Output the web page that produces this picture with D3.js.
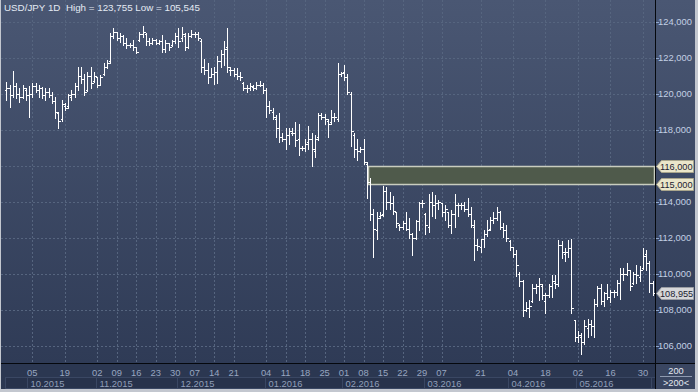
<!DOCTYPE html>
<html>
<head>
<meta charset="utf-8">
<script src="https://cdn.jsdelivr.net/npm/d3@7"></script>
<style>
html, body { margin: 0; padding: 0; background: #c3c7cf; }
svg { display: block; font-family: "Liberation Sans", Arial, sans-serif; }
</style>
</head>
<body>
<svg id="chart" width="698" height="392"></svg>
<script>
// USD/JPY daily bars
const opens = [
  120.2,120.3,119.9,120.4,120.0,119.8,120.2,119.9,120.0,120.4,
  120.2,120.3,119.9,120.1,119.9,119.6,118.9,118.6,119.3,119.3,
  119.8,120.0,120.4,121.0,120.8,120.2,121.0,120.7,120.9,120.5,
  121.1,121.5,121.8,123.2,123.4,123.1,123.2,122.8,122.7,122.7,
  122.6,123.0,123.3,123.3,122.9,122.8,123.0,122.8,122.9,122.5,
  122.8,122.7,122.9,123.2,123.1,123.2,122.6,123.2,123.3,123.3,
  122.9,121.5,121.3,120.95,121.1,121.2,121.8,122.2,122.6,121.3,
  121.3,121.1,121.0,120.6,120.3,120.3,120.35,120.3,120.5,120.5,
  120.2,119.3,119.0,118.6,118.1,117.6,117.5,117.7,117.8,117.8,
  117.5,117.0,117.0,117.3,117.5,116.8,117.6,118.8,118.7,118.5,
  118.4,118.7,118.6,121.1,121.2,120.9,120.0,117.7,116.9,116.8,
  116.9,116.1,115.1,113.3,112.4,113.2,113.3,114.6,114.0,113.9,
  113.4,112.7,112.6,112.8,112.5,112.2,112.0,112.9,113.9,113.3,
  112.6,114.0,113.8,113.9,113.9,113.4,113.4,112.7,113.3,113.8,
  113.8,113.8,113.6,113.3,112.6,111.6,111.5,111.9,112.2,112.5,
  113.0,113.1,113.4,112.6,112.4,111.8,111.5,111.1,110.0,109.6,
  108.0,108.1,108.5,109.2,109.3,109.3,108.5,108.8,109.3,109.5,
  109.4,111.6,111.1,111.2,111.4,107.4,106.5,106.5,106.2,107.0,
  107.2,107.1,108.3,109.2,108.5,108.9,108.7,109.0,109.0,109.5,
  110.0,110.0,110.2,109.5,110.0,109.8,110.3,111.1,110.6,109.5
];
const highs = [
  120.67,120.5,121.26,120.58,120.3,120.48,120.3,120.4,120.6,120.58,
  120.48,120.35,120.3,120.3,120.1,119.83,119.0,119.65,119.46,120.0,
  120.2,120.58,121.5,121.5,121.1,121.2,121.5,121.2,120.95,121.04,
  121.69,121.87,123.35,123.63,123.45,123.35,123.26,123.08,122.8,122.98,
  122.61,123.45,123.755,123.35,123.08,123.08,123.02,122.98,123.26,122.98,
  122.8,122.98,123.35,123.63,123.7,123.35,123.35,123.54,123.45,123.45,
  123.05,121.9,121.7,121.4,121.5,122.1,122.45,122.9,123.65,121.5,
  121.4,121.45,121.2,120.65,120.5,120.6,120.5,120.65,120.7,120.6,
  120.3,119.6,119.2,118.8,118.9,117.8,118.1,118.1,118.1,118.4,
  118.3,117.1,117.5,118.2,117.8,117.7,118.9,118.9,118.85,118.6,
  119.1,118.9,121.7,121.2,121.6,121.1,120.1,117.8,117.5,117.05,
  117.5,116.2,115.3,113.6,113.4,113.4,114.85,114.8,114.55,114.3,
  113.45,112.75,112.9,113.4,113.1,112.25,113.0,114.0,114.1,113.35,
  114.45,114.55,114.35,114.1,113.95,113.8,113.45,113.55,114.45,113.9,
  113.95,114.0,114.2,113.7,113.0,111.9,111.95,112.4,113.0,113.15,
  113.4,113.7,113.5,112.8,112.7,111.85,111.5,111.3,110.1,109.65,
  108.45,108.55,109.4,109.45,109.75,109.4,108.9,109.45,109.9,109.9,
  111.85,111.8,111.4,111.85,111.9,107.45,106.8,106.7,107.4,107.5,
  107.4,108.6,109.3,109.4,109.0,109.4,109.1,109.1,109.65,110.3,
  110.3,110.6,110.2,110.1,110.5,110.4,111.45,111.3,110.7,109.6
];
const lows = [
  119.65,119.25,119.83,119.75,119.56,119.75,119.65,118.69,119.83,120.1,
  119.83,119.75,119.65,119.83,119.46,118.63,118.08,118.5,119.1,119.2,
  119.65,119.83,120.2,120.58,119.93,120.15,120.3,120.67,120.35,120.48,
  121.05,121.41,121.69,123.08,122.98,122.89,122.71,122.52,122.6,122.43,
  122.24,122.95,123.17,122.71,122.71,122.75,122.76,122.75,122.33,122.33,
  122.43,122.65,122.8,122.61,122.95,122.43,122.55,123.15,123.17,122.98,
  121.2,121.1,120.6,120.9,120.55,120.6,121.5,121.6,121.2,121.05,
  121.0,120.8,120.75,120.2,120.1,120.2,120.2,120.25,120.4,120.05,
  118.7,118.9,118.6,117.6,117.3,117.35,116.9,117.2,117.7,117.1,
  116.6,116.85,116.8,116.9,115.97,116.5,117.4,118.6,118.3,117.6,
  118.3,118.5,118.5,121.0,120.75,120.0,117.1,116.5,116.3,116.75,
  116.1,114.2,113.0,110.95,111.9,113.1,113.2,113.6,113.6,113.3,
  112.6,112.4,112.5,112.4,112.0,111.05,111.95,112.4,113.7,112.2,
  112.3,113.2,113.1,113.6,113.2,113.0,112.6,112.25,112.6,113.2,
  113.6,113.5,113.2,112.6,110.75,111.3,111.2,111.5,112.1,112.45,
  112.8,113.0,112.5,112.05,111.8,111.3,110.95,109.85,109.3,107.65,
  107.9,107.6,108.45,108.9,108.55,108.6,107.8,108.7,108.7,109.2,
  109.3,110.85,110.7,110.95,107.8,106.25,106.2,105.545,106.1,106.5,
  106.6,106.5,108.2,108.3,108.2,108.6,108.45,108.7,108.8,108.6,
  109.65,109.9,109.1,109.45,109.5,109.6,110.25,110.2,109.0,108.8
];
const closes = [
  120.3,119.9,120.4,120.0,119.8,120.3,119.9,120.0,120.4,120.2,
  120.3,119.9,120.1,119.9,119.6,119.0,118.5,119.4,119.2,119.9,
  120.0,120.4,121.0,120.8,120.1,121.0,120.6,121.0,120.5,120.9,
  121.5,121.7,123.2,123.4,123.1,123.2,122.8,122.7,122.7,122.6,
  122.3,123.3,123.4,122.9,122.8,123.0,122.8,122.9,122.5,122.8,
  122.6,122.9,123.2,122.9,123.3,122.6,123.2,123.3,123.3,123.1,
  121.5,121.3,120.9,121.1,121.2,121.8,122.2,122.5,121.5,121.3,
  121.1,121.0,120.9,120.3,120.3,120.4,120.3,120.5,120.5,120.2,
  119.3,119.1,118.7,118.1,117.6,117.5,117.7,117.9,117.8,117.4,
  117.0,117.0,117.2,117.5,116.9,117.5,118.8,118.7,118.6,118.3,
  118.7,118.7,121.1,121.15,120.9,120.1,117.9,116.9,116.8,116.9,
  116.2,115.1,113.3,112.5,113.1,113.25,114.6,114.0,113.9,113.5,
  112.8,112.6,112.8,112.5,112.2,112.0,112.9,113.9,113.9,112.7,
  114.0,113.8,113.9,114.0,113.4,113.6,112.7,113.3,113.8,113.8,
  113.8,113.6,113.3,112.7,111.6,111.55,111.9,112.2,112.4,113.0,
  113.1,113.4,112.6,112.4,112.0,111.5,111.1,110.5,109.6,108.0,
  108.1,108.2,109.2,109.3,109.4,108.8,108.8,109.3,109.6,109.4,
  111.6,111.2,111.2,111.4,108.1,106.5,106.6,106.2,107.1,107.2,
  107.1,108.3,109.2,108.5,108.9,108.7,109.0,109.0,109.5,110.0,
  110.0,110.2,109.3,110.0,109.9,110.2,111.0,110.6,109.5,108.955
];

// date axis: bar index of each labelled day, and first bar of each month
const dayTicks  = [8,18,28,34,40,46,52,58,64,70,80,86,92,98,104,110,116,122,128,134,146,156,166,176,186,196];
const dayLabels = ["05","19","02","09","16","23","30","07","14","21","04","11","18","25","01","08","15","22","29","07","21","04","18","02","16","30"];
const monthStarts = [-0.5,7,28,53,80,104,129,155,176,199];
const monthLabels = ["","10.2015","11.2015","12.2015","01.2016","02.2016","03.2016","04.2016","05.2016",""];

const priceTicks = [106,108,110,112,114,116,118,120,122,124];
const bandLow = 115, bandHigh = 116, bandStart = 111;
const lastPrice = 108.955;
const titleText = "USD/JPY 1D  High = 123,755 Low = 105,545";
const barCount = "200";

const W = 698, H = 392;
const plotR = 655, plotB = 363, innerR = 695, innerB = 389;
const N = closes.length;

const svg = d3.select("#chart");
const x = d3.scaleLinear().domain([0, N - 1]).range([6.3, 652.65]);
const y = d3.scaleLinear().domain([106, 124]).range([345.7, 21.7]);
const px = i => Math.round(x(i)) + 0.5;
const fmt = v => v.toFixed(3).replace(".", ",");

const defs = svg.append("defs");
const grad = defs.append("linearGradient").attr("id", "bg").attr("x1", 0).attr("y1", 0).attr("x2", 0).attr("y2", 1);
grad.append("stop").attr("offset", "0%").attr("stop-color", "#4a5773");
grad.append("stop").attr("offset", "100%").attr("stop-color", "#2d3954");
defs.append("clipPath").attr("id", "axclip").append("rect")
  .attr("x", 0).attr("y", plotB).attr("width", plotR).attr("height", innerB - plotB);

// frame and background
svg.append("rect").attr("width", W).attr("height", H).attr("fill", "#c3c7cf");
svg.append("rect").attr("x", 1).attr("y", 0).attr("width", innerR - 1).attr("height", innerB).attr("fill", "url(#bg)");
svg.append("rect").attr("x", 1).attr("y", plotB).attr("width", plotR - 1).attr("height", innerB - plotB).attr("fill", "#2b3751");

// grid
const grid = svg.append("g").attr("stroke", "#56657f").attr("stroke-dasharray", "2,2").attr("shape-rendering", "crispEdges");
grid.selectAll("line.h").data(priceTicks).join("line")
  .attr("x1", 1).attr("x2", plotR)
  .attr("y1", d => Math.round(y(d)) + 0.5).attr("y2", d => Math.round(y(d)) + 0.5);
grid.selectAll("line.v").data(dayTicks).join("line")
  .attr("x1", d => px(d)).attr("x2", d => px(d))
  .attr("y1", 0).attr("y2", plotB);

// level band
svg.append("rect")
  .attr("x", Math.round(x(bandStart)) + 1.5).attr("y", Math.round(y(bandHigh)) + 0.5)
  .attr("width", plotR - Math.round(x(bandStart)) - 2)
  .attr("height", Math.round(y(bandLow)) - Math.round(y(bandHigh)))
  .attr("fill", "#4f5a4b").attr("stroke", "#c9cdbf").attr("stroke-width", 1.5);

// OHLC bars
svg.append("g").attr("stroke", "#ffffff").attr("stroke-width", 1).attr("fill", "none")
  .attr("shape-rendering", "crispEdges")
  .selectAll("path").data(d3.range(N)).join("path")
  .attr("d", i => {
    const xp = px(i);
    const yh = Math.round(y(highs[i])), yl = Math.round(y(lows[i])) + 1;
    const yo = Math.round(y(opens[i])) + 0.5, yc = Math.round(y(closes[i])) + 0.5;
    return `M${xp},${yh}V${yl}M${xp - 2},${yo}H${xp}M${xp},${yc}H${xp + 2}`;
  });

// title
svg.append("text").attr("x", 4).attr("y", 11).attr("font-size", 9.8).attr("fill", "#e4eaf3")
  .attr("xml:space", "preserve").text(titleText);

// separators
svg.append("line").attr("x1", plotR + 0.5).attr("x2", plotR + 0.5).attr("y1", 0).attr("y2", innerB).attr("stroke", "#05080d");
svg.append("line").attr("x1", 1).attr("x2", innerR).attr("y1", plotB + 0.5).attr("y2", plotB + 0.5).attr("stroke", "#05080d");

// price axis
const yAxis = svg.append("g");
yAxis.selectAll("line").data(priceTicks).join("line")
  .attr("x1", plotR + 1).attr("x2", plotR + 4)
  .attr("y1", d => Math.round(y(d)) + 0.5).attr("y2", d => Math.round(y(d)) + 0.5)
  .attr("stroke", "#8ea6cc");
yAxis.selectAll("text").data(priceTicks.filter(d => d !== bandHigh)).join("text")
  .attr("x", 658).attr("y", d => y(d)).attr("dy", "0.35em")
  .attr("font-size", 9.4).attr("fill", "#c3d0e4").text(fmt);

function tag(v, fill, stroke) {
  const c = Math.round(y(v)) + 0.5, h = 6;
  svg.append("path")
    .attr("d", `M${plotR + 1.5},${c}L${plotR + 6.5},${c - h}H${innerR - 1.5}V${c + h}H${plotR + 6.5}Z`)
    .attr("fill", fill).attr("stroke", stroke);
  svg.append("text").attr("x", 660).attr("y", c).attr("dy", "0.35em")
    .attr("font-size", 9.2).attr("fill", "#1c2230").text(fmt(v));
}
tag(bandHigh, "#ebe6ca", "#a9a58c");
tag(bandLow, "#ebe6ca", "#a9a58c");
tag(lastPrice, "#d6d7d9", "#9a9da3");

// date axis
const xAxis = svg.append("g").attr("clip-path", "url(#axclip)");
xAxis.selectAll("text.day").data(dayTicks).join("text")
  .attr("x", d => x(d)).attr("y", 375.5).attr("text-anchor", "middle")
  .attr("font-size", 9.4).attr("fill", "#98a6c0")
  .text((d, i) => dayLabels[i]);
const months = monthStarts.map((s, i) => ({
  x0: Math.round(x(s - (i ? 0.5 : 0))) + 0.5,
  x1: i < monthStarts.length - 1 ? Math.round(x(monthStarts[i + 1] - 0.5)) + 0.5 : plotR + 5,
  label: monthLabels[i]
}));
xAxis.selectAll("rect.mon").data(months).join("rect")
  .attr("x", d => d.x0).attr("y", 377.5).attr("width", d => d.x1 - d.x0).attr("height", 11)
  .attr("fill", "#27324b").attr("stroke", "#3a4763");
xAxis.selectAll("text.mon").data(months.filter(d => d.label)).join("text")
  .attr("x", d => d.x0 + 3).attr("y", 386.5)
  .attr("font-size", 9.4).attr("fill", "#919fb9").text(d => d.label);

// bar count box
svg.append("rect").attr("x", plotR + 1).attr("y", plotB + 1).attr("width", innerR - plotR - 1).attr("height", innerB - plotB - 1)
  .attr("fill", "#3a4661");
svg.append("line").attr("x1", 660).attr("x2", 692).attr("y1", 376.5).attr("y2", 376.5).attr("stroke", "#8f9ab0");
svg.append("text").attr("x", 676).attr("y", 374).attr("text-anchor", "middle")
  .attr("font-size", 9.2).attr("fill", "#e6eaf1").text(barCount);
svg.append("text").attr("x", 676).attr("y", 386).attr("text-anchor", "middle")
  .attr("font-size", 9.2).attr("fill", "#e6eaf1").text(">" + barCount + "<");
</script>
</body>
</html>
